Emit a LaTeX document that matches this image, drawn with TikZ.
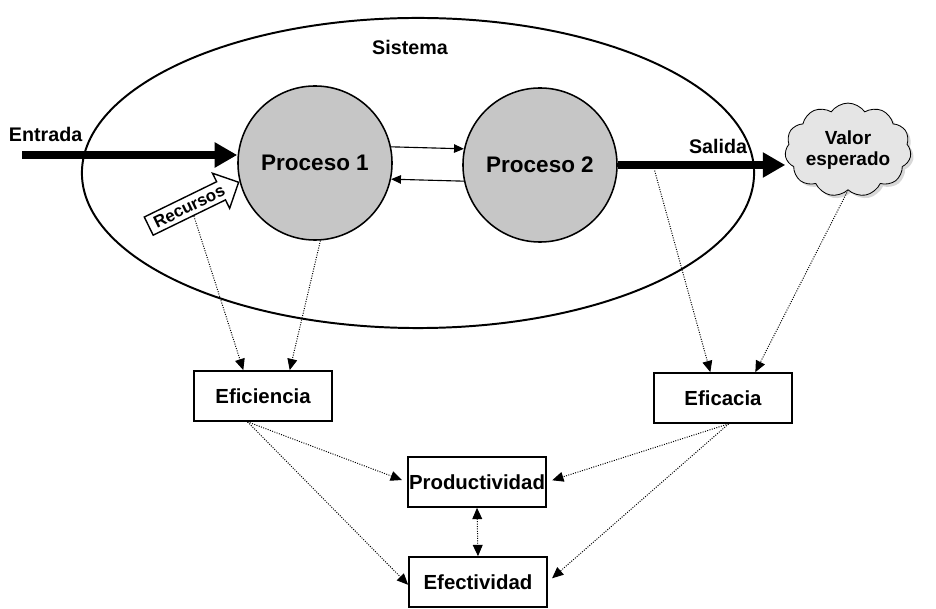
\documentclass[tikz,border=0pt]{standalone}
\usepackage{fontspec}
\setmainfont{Liberation Sans}
\usetikzlibrary{arrows.meta,shapes.symbols,shapes.arrows,shadows}
\tikzset{
  proceso/.style={circle,draw,line width=1.1pt,fill=gray!45,minimum size=3.85cm,
    font=\bfseries\fontsize{16}{18}\selectfont},
  caja/.style={draw,line width=1.2pt,fill=white,minimum width=3.45cm,minimum height=1.25cm,
    inner sep=0pt,font=\bfseries\fontsize{14.5}{16}\selectfont},
  grueso/.style={line width=5.6pt,-{Triangle[length=16pt,width=17pt]}},
  fino/.style={line width=0.8pt,-{Triangle[length=7pt,width=6pt]}},
  punteado/.style={densely dotted,line width=0.7pt,-{Triangle[length=8pt,width=7pt]}},
  rotulo/.style={font=\bfseries\fontsize{14}{16}\selectfont}
}
\begin{document}
\begin{tikzpicture}[x=0.025cm,y=-0.025cm]
\useasboundingbox (0,0) rectangle (936,609);

% el sistema
\draw[line width=1.4pt] (418,173) ellipse [x radius=8.4cm, y radius=3.875cm];
\node[font=\bfseries\fontsize{14}{16}\selectfont] (sis) at (410,47) {Sistema};

\node[proceso] (p1) at (315,163) {Proceso 1};
\node[proceso] (p2) at (540,165) {Proceso 2};

\node[cloud,cloud puffs=11,cloud puff arc=110,aspect=1.5,draw,line width=0.6pt,
  fill=gray!20,minimum width=2.9cm,minimum height=2.05cm,inner sep=0pt,
  drop shadow={shadow xshift=2pt,shadow yshift=-2pt,fill=gray!60},
  align=center,font=\bfseries\fontsize{13.5}{15}\selectfont] (valor) at (848,150) {Valor\\esperado};

\node[single arrow,draw,line width=1pt,fill=white,rotate=26,anchor=tip,
  minimum height=2.5cm,single arrow head extend=6.7pt,inner xsep=1pt,inner ysep=2.5pt,
  font=\bfseries\fontsize{12}{14}\selectfont] (rec) at (p1.194) {Recursos};

% entradas y salidas
\coordinate (ent) at (22,155);
\node[rotulo,anchor=south west] (lent) at (4,147) {Entrada};
\draw[grueso] (ent) -- (ent -| p1.west);
\draw[grueso] (p2.east) -- coordinate[pos=0.22] (sal) (p2.east -| valor.west);
\node[font=\bfseries\fontsize{14}{16}\selectfont] (lsal) at (718,146) {Salida};

\draw[fino] (p1.12) -- (p2.168);
\draw[fino] (p2.-168) -- (p1.-12);

% indicadores
\node[caja] (efi) at (263,396) {Eficiencia};
\node[caja] (efa) at (723,398) {Eficacia};
\node[caja] (prod) at (477,482) {Productividad};
\node[caja] (efec) at (478,582) {Efectividad};

\draw[punteado] (rec.south) -- ([xshift=-14pt]efi.north);
\draw[punteado] (p1.-86) -- ([xshift=19pt]efi.north);
\draw[punteado] ([yshift=-4pt]sal) -- ([xshift=-9pt]efa.north);
\draw[punteado] (valor.south) -- ([xshift=23pt]efa.north);

\draw[punteado,shorten >=4pt] ([xshift=-11pt]efi.south) -- (prod.west);
\draw[punteado] ([xshift=-11pt]efi.south) -- ([yshift=-2pt]efec.west);
\draw[punteado,shorten >=4pt] ([xshift=4pt]efa.south) -- (prod.east);
\draw[punteado,shorten >=4pt] ([xshift=4pt]efa.south) -- (efec.east);
\draw[punteado,{Triangle[length=8pt,width=7pt]}-{Triangle[length=8pt,width=7pt]}] (prod.south) -- (efec.north);
\end{tikzpicture}
\end{document}
